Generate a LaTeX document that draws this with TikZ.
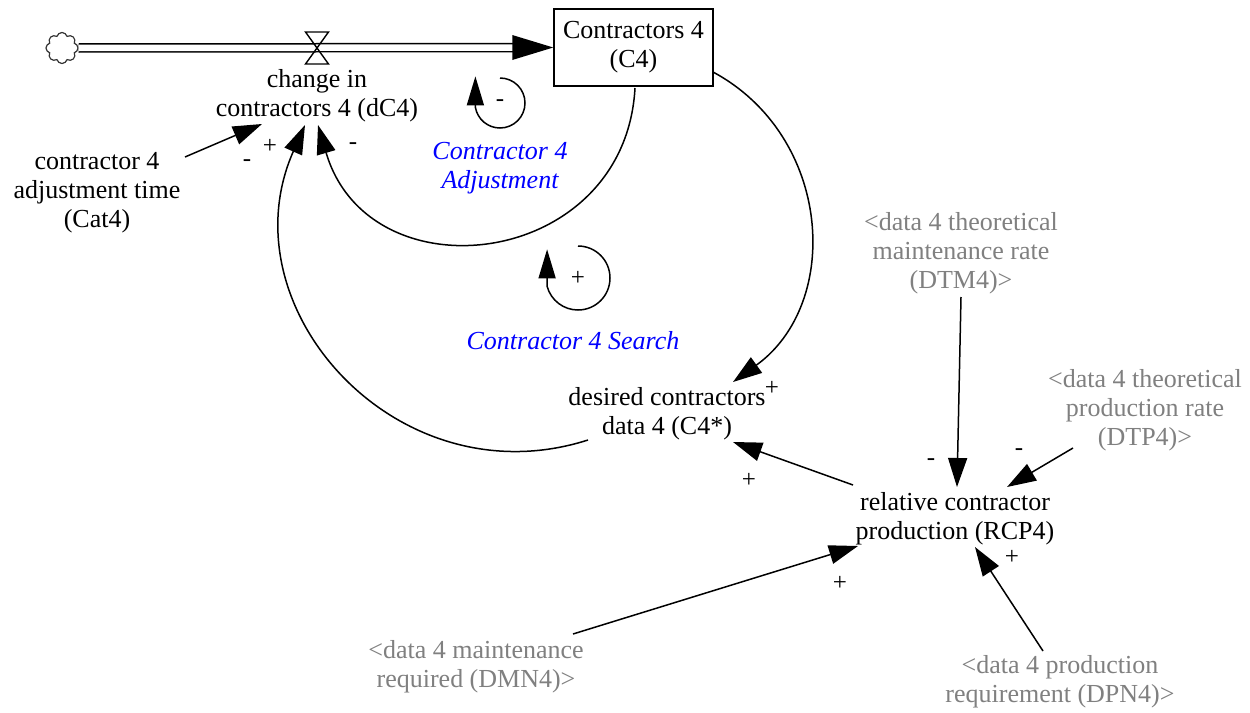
\documentclass[tikz,border=0pt]{standalone}
\usepackage{fontspec}
\setmainfont{Liberation Serif}
\newfontfamily\diagserif{Liberation Serif}
\usetikzlibrary{arrows.meta,shapes.symbols}
\definecolor{loopblue}{RGB}{0,0,255}
\definecolor{shadowgray}{RGB}{128,128,128}

\begin{document}
\begin{tikzpicture}[x=1pt,y=-1pt,
  lbl/.style={font=\diagserif\fontsize{26}{29}\selectfont, align=center, inner sep=0pt},
  ghost/.style={lbl, text=shadowgray},
  looplbl/.style={lbl, text=loopblue, font=\diagserif\fontsize{26}{29}\selectfont\itshape},
  sgn/.style={font=\diagserif\fontsize{25}{27}\selectfont, inner sep=0pt},
  link/.style={line width=1.5pt, -{Triangle[length=29pt,width=19pt]}},
  loopmark/.style={line width=1.5pt, -{Triangle[length=29pt,width=17pt]}},
  pipe/.style={double=white, double distance=6.5pt, line width=1.5pt},
]
\useasboundingbox (0,0) rectangle (1250,712);

% stock, flow and source
\node[cloud, cloud puffs=8, aspect=1, draw=black!80, line width=1.2pt,
      minimum width=32pt, minimum height=31pt, inner sep=0pt] (src) at (62,48) {};
\node[draw, line width=1.5pt, minimum width=159pt, minimum height=77pt,
      lbl] (c4) at (633.5,47.5) {Contractors 4\\(C4)};
\coordinate (valve) at (317,48);

\draw[pipe, shorten >=40pt] (src.east) -- (c4.west);
\fill (c4.west) -- ++(-41,-12.5) -- ++(0,25) -- cycle;
\draw[line width=1.4pt] (valve) ++(-11.5,-16) -- ++(23,0) -- ++(-23,32) -- ++(23,0) -- cycle;

% variables
\node[lbl] (dc4) at (317,96) {change in\\contractors 4 (dC4)};
\node[lbl] (cat4) at (97,193) {contractor 4\\adjustment time\\(Cat4)};
\node[lbl] (cstar) at (667,414) {desired contractors\\data 4 (C4*)};
\node[lbl] (rcp) at (955,519) {relative contractor\\production (RCP4)};
\node[ghost] (dtm) at (961,253) {<data 4 theoretical\\maintenance rate\\(DTM4)>};
\node[ghost] (dtp) at (1145,410) {<data 4 theoretical\\production rate\\(DTP4)>};
\node[ghost] (dmn) at (476,667) {<data 4 maintenance\\required (DMN4)>};
\node[ghost] (dpn) at (1060,682) {<data 4 production\\requirement (DPN4)>};

% loop names
\node[looplbl] (adjname) at (500,168) {Contractor 4\\Adjustment};
\node[looplbl] (srchname) at (573,341) {Contractor 4 Search};

% connector end points
\coordinate (cat4-o) at (185,157);
\coordinate (dc4-i1) at (262,124);
\coordinate (dc4-i2) at (305,125);
\coordinate (dc4-i3) at (318,125);
\coordinate (c4-o1) at (635,88);
\coordinate (c4-o2) at (713,72);
\coordinate (cstar-o) at (588,440);
\coordinate (cstar-i1) at (733,382);
\coordinate (cstar-i2) at (733,442);
\coordinate (rcp-o) at (853,485);
\coordinate (rcp-i1) at (858,546);
\coordinate (rcp-i2) at (957,487);
\coordinate (rcp-i3) at (1007,487);
\coordinate (rcp-i4) at (975,547);
\coordinate (dmn-o) at (573,634);
\coordinate (dtm-o) at (961,297);
\coordinate (dtp-o) at (1073,448);
\coordinate (dpn-o) at (1043,651);

% causal links
\draw[link] (cat4-o) -- (dc4-i1);
\draw[link] (c4-o1) .. controls (625,269) and (369,299) .. (dc4-i3);
\draw[link] (cstar-o) .. controls (397.6,501) and (224,308) .. (dc4-i2);
\draw[link] (c4-o2) .. controls (832,136) and (842.5,303) .. (cstar-i1);
\draw[link] (rcp-o) -- (cstar-i2);
\draw[link] (dmn-o) -- (rcp-i1);
\draw[link] (dtm-o) -- (rcp-i2);
\draw[link] (dtp-o) -- (rcp-i3);
\draw[link] (dpn-o) -- (rcp-i4);

% polarity signs
\node[sgn] at (270,146) {+};
\node[sgn] at (247,163) {-};
\node[sgn] at (353,146) {-};
\node[sgn] at (772,388) {+};
\node[sgn] at (749,480) {+};
\node[sgn] at (840,583) {+};
\node[sgn] at (931,462) {-};
\node[sgn] at (1019,452) {-};
\node[sgn] at (1012,557) {+};

% loop markers
\coordinate (adjloop) at (500,103);
\draw[loopmark] (adjloop) ++(0,-25) arc[start angle=-90, end angle=170, radius=25] -- ++(0,-31);
\node[sgn] at (adjloop) {-};
\coordinate (srchloop) at (578,278);
\draw[loopmark] (srchloop) ++(0,-32) arc[start angle=-90, end angle=165, radius=32] -- ++(0,-37);
\node[sgn] at (srchloop) {+};
\end{tikzpicture}
\end{document}
